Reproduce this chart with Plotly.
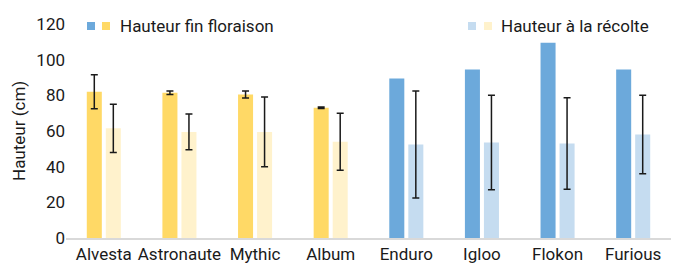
import plotly.graph_objects as go

varieties = ["Alvesta", "Astronaute", "Mythic", "Album", "Enduro", "Igloo", "Flokon", "Furious"]
h_floraison = [82, 81.5, 80.5, 73, 89.5, 94.5, 109.5, 94.5]
err_floraison = [9.5, 1, 2, 0.4, 0, 0, 0, 0]
h_recolte = [61.5, 59.5, 59.5, 54, 52.5, 53.5, 53, 58]
err_recolte = [13.5, 10, 19.5, 16, 30, 26.5, 25.7, 22]
groups = ["y", "y", "y", "y", "b", "b", "b", "b"]

dark = {"y": "#FFD966", "b": "#6CA9DB"}
light = {"y": "#FFF2CC", "b": "#C5DCF0"}

FONT = "Roboto"
W, H = 677, 266
ml, mr, mt, mb = 66, 6, 24, 28

fig = go.Figure()
for g in ("y", "b"):
    idx = [i for i, gg in enumerate(groups) if gg == g]
    has_err = any(err_floraison[i] for i in idx)
    fig.add_trace(go.Bar(
        x=[varieties[i] for i in idx], y=[h_floraison[i] for i in idx],
        name="Hauteur fin floraison", offsetgroup="flo",
        marker=dict(color=dark[g], line=dict(width=0)),
        error_y=dict(type="data", array=[err_floraison[i] for i in idx],
                     visible=has_err, color="#1a1a1a", thickness=1.5, width=3.5),
    ))
fig.add_trace(go.Bar(
    x=varieties, y=h_recolte, name="Hauteur à la récolte", offsetgroup="rec",
    marker=dict(color=[light[g] for g in groups], line=dict(width=0)),
    error_y=dict(type="data", array=err_recolte, visible=True,
                 color="#1a1a1a", thickness=1.5, width=3.5),
))

pw = W - ml - mr
ph = H - mt - mb

def px(x):
    return (x - ml) / pw

def py(y):
    return (H - mb - y) / ph

shapes = []
annotations = []
legend_items = [
    (87, 102, 118, "Hauteur fin floraison", "y"),
    (468, 484, 499, "Hauteur à la récolte", "l"),
]
for x1, x2, xt, label, kind in legend_items:
    cols = [dark["b"], dark["y"]] if kind == "y" else [light["b"], light["y"]]
    for xs, c in zip((x1, x2), cols):
        shapes.append(dict(type="rect", xref="paper", yref="paper",
                           x0=px(xs), x1=px(xs + 8), y0=py(30), y1=py(22),
                           fillcolor=c, line=dict(width=0)))
    annotations.append(dict(xref="paper", yref="paper", x=px(xt), y=py(26),
                            xanchor="left", yanchor="middle", text=label,
                            showarrow=False,
                            font=dict(family=FONT, size=17, color="#1a1a1a")))
annotations.append(dict(xref="paper", yref="paper", x=px(19), y=py(131),
                        xanchor="center", yanchor="middle", textangle=-90,
                        text="Hauteur (cm)", showarrow=False,
                        font=dict(family=FONT, size=17, color="#1a1a1a")))

fig.update_layout(
    width=W, height=H,
    margin=dict(l=ml, r=mr, t=mt, b=mb, pad=0),
    paper_bgcolor="white", plot_bgcolor="white",
    barmode="group", bargap=0.497, bargroupgap=0.21,
    showlegend=False,
    shapes=shapes, annotations=annotations,
    font=dict(family=FONT, size=17, color="#1a1a1a"),
    xaxis=dict(showline=True, linecolor="#D9D9D9", linewidth=2,
               ticks="", automargin=False,
               tickfont=dict(family=FONT, size=17, color="#1a1a1a"),
               showgrid=False, zeroline=False),
    yaxis=dict(range=[0, 120], dtick=20, showgrid=False, zeroline=False,
               showline=False, ticks="", automargin=False,
               tickfont=dict(family=FONT, size=17, color="#1a1a1a")),
)

fig.write_html("out.html", config={"displayModeBar": False},
               post_script="document.body.style.margin='0';")
